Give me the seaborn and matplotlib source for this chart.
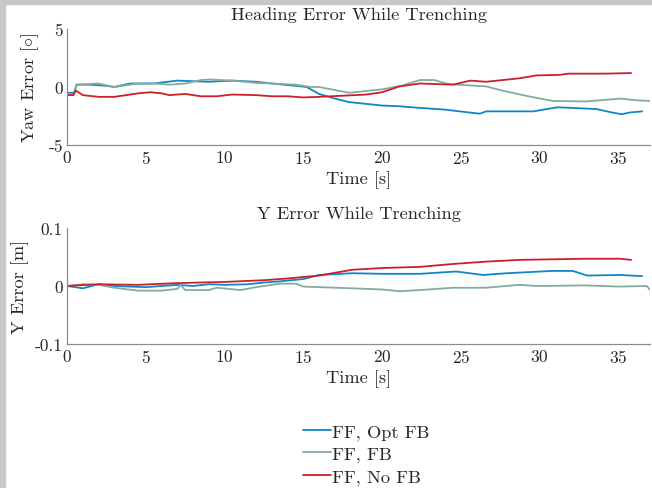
import matplotlib
matplotlib.use("Agg")
import matplotlib.pyplot as plt
from matplotlib.patches import Rectangle
import pandas as pd
import seaborn as sns

# series labels and colours
LABELS = ["FF, Opt FB", "FF, FB", "FF, No FB"]
COLORS = ["#0e86c9", "#86aa9d", "#cc1f2b"]

# heading (yaw) error, degrees
yaw_opt_t = [0, 0.45, 0.6, 1.5, 2.5, 3.0, 4.0, 5.5, 7.0, 8.0, 9.0, 10.5, 12.0, 13.0,
             14.5, 15.2, 16.0, 17.0, 17.9, 20.0, 21.0, 22.4, 24.0, 24.9, 26.2, 26.6,
             28.0, 29.6, 31.1, 32.0, 33.6, 34.6, 35.2, 35.7, 36.5]
yaw_opt_v = [-0.5, -0.5, 0.2, 0.2, 0.1, 0.0, 0.3, 0.3, 0.55, 0.5, 0.45, 0.55, 0.45, 0.3,
             0.1, 0.0, -0.6, -1.0, -1.3, -1.6, -1.65, -1.8, -1.95, -2.1, -2.3, -2.1,
             -2.1, -2.1, -1.75, -1.8, -1.9, -2.2, -2.35, -2.2, -2.1]

yaw_fb_t = [0, 0.45, 0.6, 2.0, 3.0, 4.5, 5.5, 6.5, 7.5, 8.5, 9.0, 10.5, 12.0, 13.0,
            14.5, 15.5, 16.0, 17.9, 20.0, 21.2, 22.4, 23.3, 24.2, 26.6, 27.6, 29.1,
            30.8, 32.9, 35.1, 36.2, 37.0]
yaw_fb_v = [-0.6, -0.6, 0.2, 0.3, 0.0, 0.3, 0.3, 0.2, 0.3, 0.6, 0.65, 0.55, 0.35, 0.3,
            0.2, 0.0, 0.0, -0.5, -0.2, 0.1, 0.6, 0.6, 0.25, 0.05, -0.3, -0.75,
            -1.2, -1.25, -1.0, -1.15, -1.2]

yaw_nofb_t = [0, 0.4, 0.55, 1.0, 2.0, 3.0, 4.5, 5.3, 6.0, 6.5, 7.5, 8.5, 9.5, 10.5,
              12.0, 13.0, 14.0, 15.0, 16.0, 17.5, 19.0, 20.0, 21.1, 22.4, 24.5, 25.6,
              26.6, 28.7, 29.8, 31.3, 31.8, 34.1, 35.8]
yaw_nofb_v = [-0.7, -0.7, -0.3, -0.7, -0.85, -0.85, -0.55, -0.45, -0.55, -0.7, -0.6, -0.8,
              -0.8, -0.65, -0.7, -0.8, -0.8, -0.9, -0.85, -0.75, -0.65, -0.45, 0.05, 0.3,
              0.2, 0.55, 0.45, 0.75, 1.0, 1.05, 1.15, 1.15, 1.2]

# lateral (Y) error, metres
y_opt_t = [0, 1.0, 2.0, 3.0, 5.0, 6.0, 7.0, 8.0, 9.0, 10.0, 11.5, 12.5, 13.5, 15.0,
           16.0, 18.1, 20.0, 22.4, 24.7, 26.4, 27.9, 30.8, 32.1, 33.0, 35.1, 36.5]
y_opt_v = [0.0, -0.004, 0.003, 0.0, -0.002, 0.0, 0.002, 0.0, 0.003, 0.002, 0.003, 0.006,
           0.008, 0.012, 0.019, 0.022, 0.021, 0.021, 0.025, 0.019, 0.022, 0.026, 0.026,
           0.018, 0.019, 0.017]

y_fb_t = [0, 1.0, 2.0, 3.0, 4.5, 6.0, 7.0, 7.2, 7.5, 9.0, 9.5, 11.0, 12.0, 13.5,
          14.5, 15.0, 18.1, 20.0, 21.1, 22.4, 24.5, 26.6, 28.7, 29.8, 32.9, 35.1,
          36.8, 37.0]
y_fb_v = [0.0, 0.003, 0.002, -0.003, -0.008, -0.008, -0.005, 0.002, -0.007, -0.007,
          -0.003, -0.007, -0.002, 0.004, 0.004, -0.001, -0.004, -0.006, -0.009, -0.007,
          -0.003, -0.003, 0.002, 0.0, 0.001, -0.001, 0.0, -0.007]

y_nofb_t = [0, 2.0, 4.5, 7.0, 10.0, 12.5, 14.0, 16.0, 18.1, 20.0, 22.4, 24.5, 26.6,
            28.7, 30.8, 32.9, 35.1, 35.8]
y_nofb_v = [0.0, 0.003, 0.002, 0.005, 0.007, 0.010, 0.013, 0.018, 0.028, 0.031, 0.033,
            0.038, 0.042, 0.045, 0.046, 0.047, 0.047, 0.045]

X_TICKS = [0, 5, 10, 15, 20, 25, 30, 35]
YAW_TICKS = [-5, 0, 5]
Y_TICKS = [-0.1, 0, 0.1]


def style_axes(ax, yticks, ylim):
    ax.set_xlim(0, 37)
    ax.set_ylim(*ylim)
    ax.set_xticks(X_TICKS)
    ax.set_yticks(yticks)
    ax.set_yticklabels([f"{t:g}" for t in yticks])
    for side in ["top", "right"]:
        ax.spines[side].set_visible(False)
    for side in ["left", "bottom"]:
        ax.spines[side].set_color("#8c8c8c")
        ax.spines[side].set_linewidth(0.9)
    ax.tick_params(direction="in", length=5, width=0.9, color="#8c8c8c",
                   labelsize=12.5, labelcolor="#262626", pad=3)
    ax.set_xlabel("Time [s]", fontsize=13.2, color="#262626", labelpad=3)
    ax.grid(False)


def draw(ax, series):
    for (t, v), label, color in zip(series, LABELS, COLORS):
        df = pd.DataFrame({"t": t, "v": v})
        sns.lineplot(data=df, x="t", y="v", ax=ax, color=color, label=label,
                     linewidth=1.3, estimator=None, sort=False, legend=False)


sns.set_theme(style="white")
plt.rcParams["font.family"] = ["cmr10", "DejaVu Serif"]
plt.rcParams["mathtext.fontset"] = "cm"
plt.rcParams["axes.unicode_minus"] = False
plt.rcParams["axes.formatter.use_mathtext"] = True

fig = plt.figure(figsize=(6.52, 4.89), dpi=100)
ax1 = fig.add_axes([0.1028, 0.7014, 0.8942, 0.2373])
ax2 = fig.add_axes([0.1028, 0.2945, 0.8942, 0.2372])

draw(ax1, [(yaw_opt_t, yaw_opt_v), (yaw_fb_t, yaw_fb_v), (yaw_nofb_t, yaw_nofb_v)])
style_axes(ax1, YAW_TICKS, (-5, 5))
ax1.set_ylabel(r"Yaw Error [$\circ$]", fontsize=13.2, color="#262626", labelpad=5)
ax1.set_title("Heading Error While Trenching", fontsize=13.2, color="#262626", pad=7)

draw(ax2, [(y_opt_t, y_opt_v), (y_fb_t, y_fb_v), (y_nofb_t, y_nofb_v)])
style_axes(ax2, Y_TICKS, (-0.1, 0.1))
ax2.set_ylabel("Y Error [m]", fontsize=13.2, color="#262626", labelpad=4)
ax2.set_title("Y Error While Trenching", fontsize=13.2, color="#262626", pad=7)

handles = ax1.get_lines()[:3]
fig.legend(handles, LABELS, loc="center", bbox_to_anchor=(0.562, 0.0695),
           frameon=False, fontsize=13.2, handlelength=1.55, handletextpad=0.05,
           labelspacing=0.33, labelcolor="#262626")

# grey window border seen on the top and left edges
fig.add_artist(Rectangle((0, 1 - 5 / 489), 1, 5 / 489, transform=fig.transFigure,
                         color="#c8c8c8", zorder=10))
fig.add_artist(Rectangle((0, 0), 5 / 652, 1, transform=fig.transFigure,
                         color="#c8c8c8", zorder=10))

fig.savefig("out.png", dpi=100)
